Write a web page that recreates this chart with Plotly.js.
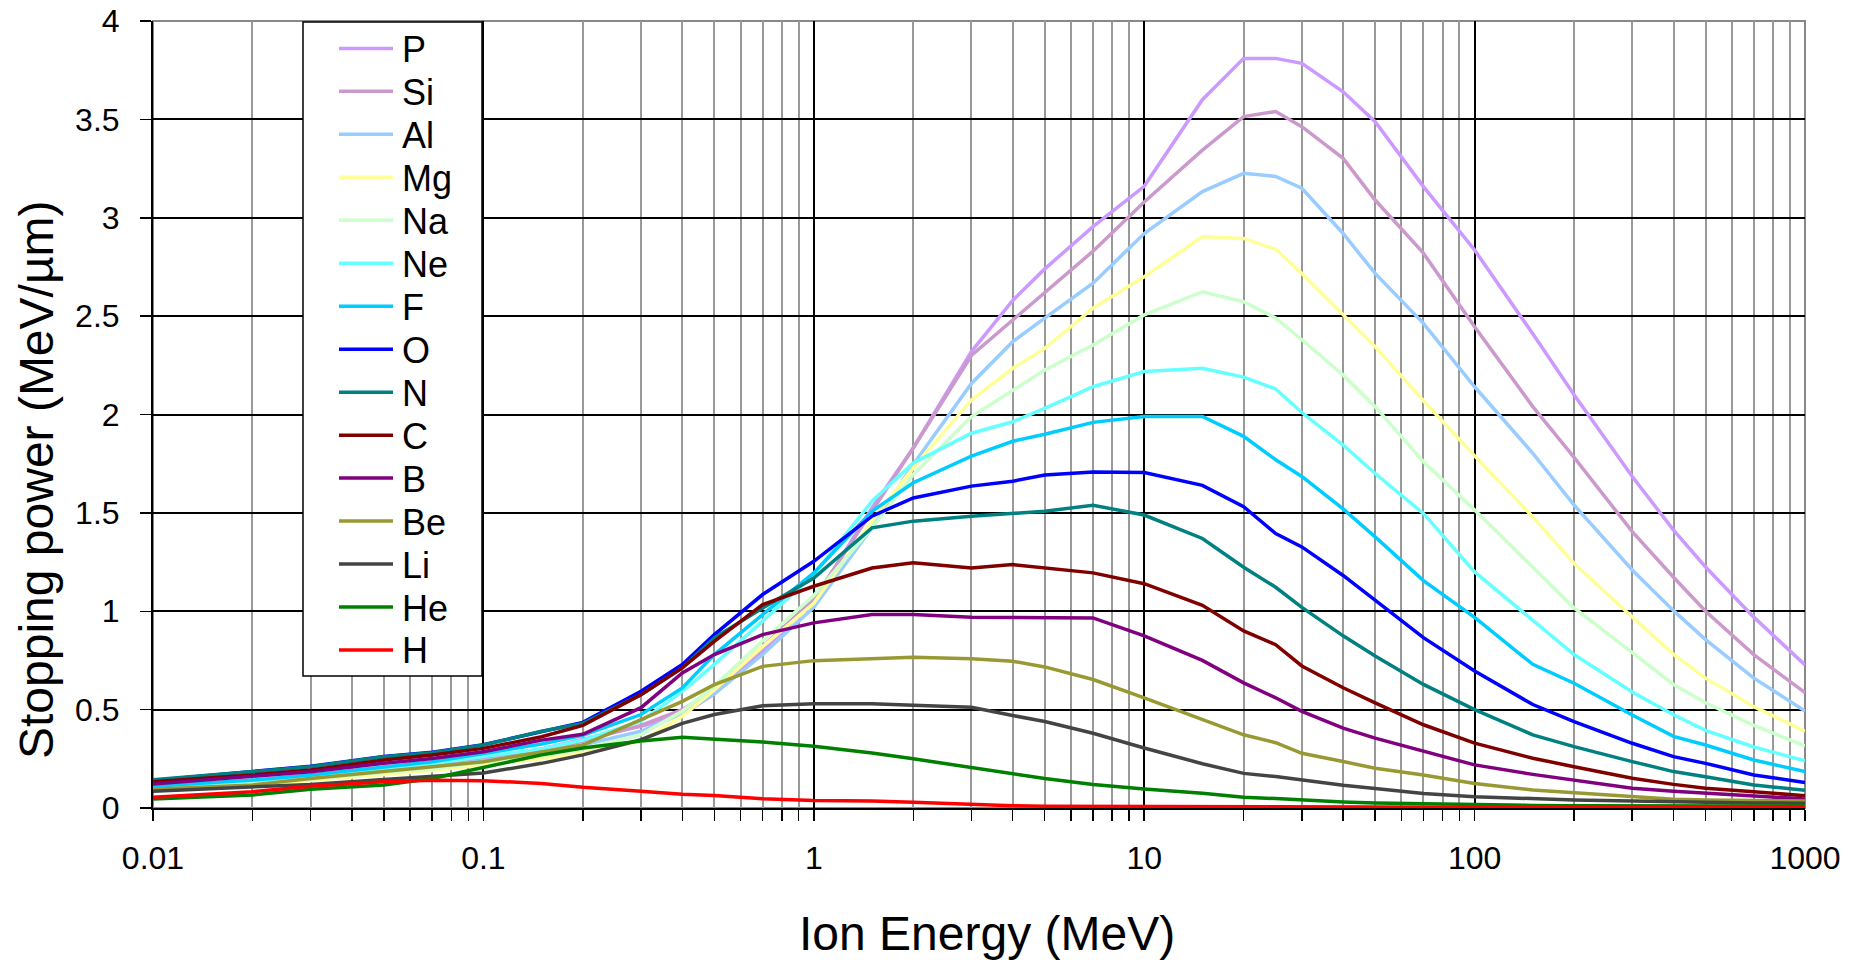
<!DOCTYPE html>
<html>
<head>
<meta charset="utf-8">
<script src="https://cdn.plot.ly/plotly-3.0.1.min.js"></script>
<style>
html,body{margin:0;padding:0;background:#fff;}
#chart{width:1850px;height:960px;}
</style>
</head>
<body>
<div id="chart"></div>
<script>
// Ion energy grid (MeV)
const energy = [0.01,0.02,0.03,0.05,0.07,0.1,0.15,0.2,0.3,0.4,0.5,0.7,1,1.5,2,3,4,5,7,10,15,20,25,30,40,50,70,100,150,200,300,400,500,700,1000];

// Stopping power (MeV/µm) per ion
const P  = [0.1,0.135,0.155,0.19,0.215,0.25,0.3,0.35,0.415,0.475,0.58,0.8,1.05,1.525,1.83,2.32,2.58,2.74,2.955,3.16,3.6,3.81,3.81,3.785,3.64,3.488,3.158,2.836,2.41,2.1,1.685,1.412,1.225,0.97,0.727];
const Si = [0.1,0.133,0.152,0.186,0.21,0.245,0.29,0.34,0.42,0.5,0.6,0.82,1.06,1.508,1.83,2.3,2.48,2.62,2.83,3.08,3.344,3.514,3.54,3.463,3.302,3.09,2.82,2.446,2.04,1.782,1.405,1.173,1.0,0.78,0.586];
const Al = [0.1,0.13,0.15,0.183,0.205,0.24,0.28,0.32,0.39,0.48,0.58,0.78,1.02,1.424,1.746,2.158,2.37,2.49,2.667,2.92,3.133,3.226,3.21,3.15,2.92,2.717,2.463,2.141,1.803,1.54,1.21,1.003,0.856,0.66,0.493];
const Mg = [0.095,0.12,0.14,0.17,0.19,0.22,0.25,0.28,0.34,0.466,0.6,0.82,1.04,1.458,1.729,2.074,2.235,2.336,2.54,2.7,2.904,2.895,2.84,2.717,2.506,2.345,2.07,1.79,1.48,1.243,0.971,0.781,0.66,0.515,0.391];
const Na = [0.1,0.128,0.148,0.18,0.2,0.232,0.265,0.3,0.373,0.492,0.62,0.85,1.08,1.424,1.695,1.989,2.124,2.226,2.353,2.506,2.624,2.573,2.49,2.38,2.2,2.04,1.76,1.515,1.224,1.017,0.79,0.628,0.535,0.42,0.316];
const Ne = [0.105,0.138,0.16,0.2,0.225,0.262,0.3,0.345,0.441,0.593,0.73,0.95,1.186,1.559,1.754,1.905,1.963,2.031,2.141,2.218,2.235,2.19,2.13,2.01,1.845,1.7,1.497,1.2,0.952,0.78,0.59,0.474,0.395,0.31,0.24];
const F  = [0.11,0.142,0.168,0.21,0.235,0.277,0.325,0.37,0.475,0.61,0.78,0.983,1.195,1.508,1.653,1.788,1.864,1.9,1.96,1.99,1.99,1.889,1.77,1.685,1.52,1.378,1.156,0.969,0.73,0.634,0.473,0.364,0.32,0.244,0.185];
const O  = [0.14,0.186,0.212,0.262,0.283,0.322,0.39,0.435,0.593,0.729,0.881,1.085,1.254,1.483,1.576,1.636,1.661,1.692,1.708,1.705,1.64,1.531,1.395,1.327,1.182,1.054,0.866,0.696,0.526,0.439,0.329,0.261,0.227,0.168,0.13];
const N  = [0.143,0.184,0.21,0.26,0.281,0.32,0.39,0.43,0.576,0.712,0.864,1.017,1.169,1.424,1.458,1.483,1.495,1.508,1.539,1.489,1.37,1.224,1.122,1.02,0.875,0.773,0.628,0.5,0.372,0.312,0.236,0.185,0.159,0.117,0.09];
const C  = [0.134,0.168,0.193,0.244,0.269,0.303,0.362,0.42,0.576,0.712,0.847,1.034,1.127,1.22,1.246,1.22,1.237,1.22,1.195,1.14,1.03,0.9,0.83,0.722,0.611,0.534,0.423,0.33,0.253,0.21,0.151,0.12,0.1,0.083,0.062];
const B  = [0.122,0.159,0.184,0.227,0.252,0.286,0.345,0.375,0.51,0.686,0.78,0.881,0.941,0.983,0.983,0.969,0.969,0.969,0.966,0.875,0.75,0.636,0.56,0.491,0.406,0.355,0.287,0.219,0.171,0.142,0.1,0.085,0.075,0.058,0.046];
const Be = [0.095,0.117,0.15,0.184,0.21,0.235,0.286,0.32,0.449,0.542,0.627,0.72,0.749,0.759,0.766,0.758,0.746,0.717,0.653,0.56,0.45,0.372,0.332,0.278,0.236,0.202,0.168,0.125,0.091,0.078,0.058,0.045,0.041,0.038,0.036];
const Li = [0.085,0.105,0.12,0.145,0.16,0.178,0.227,0.27,0.347,0.43,0.475,0.52,0.53,0.53,0.522,0.512,0.47,0.44,0.38,0.305,0.225,0.176,0.16,0.142,0.116,0.099,0.074,0.057,0.047,0.041,0.036,0.031,0.029,0.026,0.024];
const He = [0.046,0.066,0.095,0.117,0.15,0.205,0.27,0.305,0.34,0.36,0.352,0.336,0.314,0.28,0.25,0.205,0.175,0.15,0.12,0.096,0.075,0.055,0.048,0.04,0.03,0.025,0.02,0.015,0.013,0.012,0.011,0.01,0.01,0.01,0.01];
const H  = [0.055,0.083,0.11,0.133,0.141,0.139,0.125,0.105,0.085,0.07,0.063,0.047,0.038,0.036,0.029,0.018,0.012,0.009,0.008,0.008,0.007,0.007,0.006,0.005,0.005,0.004,0.004,0.004,0.004,0.004,0.004,0.004,0.004,0.004,0.004];

const ionNames  = ['P','Si','Al','Mg','Na','Ne','F','O','N','C','B','Be','Li','He','H'];
const ionValues = [P, Si, Al, Mg, Na, Ne, F, O, N, C, B, Be, Li, He, H];
const ionColors = ['#CC99FF','#CC99CC','#99CCFF','#FFFF99','#CCFFCC','#66FFFF','#00CCFF','#0000FF','#008080','#800000','#800080','#999933','#444444','#008000','#FF0000'];

const xTickVals = [0.01,0.1,1,10,100,1000];
const xTickText = ['0.01','0.1','1','10','100','1000'];

const minorVals = [];
for (let d = -2; d < 3; d++) {
  for (let m = 2; m <= 9; m++) minorVals.push(m * Math.pow(10, d));
}

const traces = ionNames.map((name, i) => ({
  type: 'scatter',
  mode: 'lines',
  name: name,
  x: energy,
  y: ionValues[i],
  line: {color: ionColors[i], width: 3.5},
  showlegend: false
}));

const fontFam = 'Liberation Sans, Arial, sans-serif';

// plot-area geometry (pixels) used to place the hand-built legend box and titles
const PL = 153, PR = 1805, PT = 21, PB = 808;
const px2x = px => (px - PL) / (PR - PL);
const py2y = py => (PB - py) / (PB - PT);

const shapes = [
  {type: 'rect', xref: 'paper', yref: 'paper', x0: 0, x1: 1, y0: 0, y1: 1,
   line: {color: '#888888', width: 2}, layer: 'below'},
  {type: 'rect', xref: 'paper', yref: 'paper', x0: px2x(303), x1: px2x(482), y0: py2y(676), y1: py2y(22),
   line: {color: '#000', width: 1.5}, fillcolor: '#ffffff', layer: 'above'}
];
const annotations = [
  {text: 'Stopping power (MeV/µm)', textangle: -90, xref: 'paper', yref: 'paper',
   x: px2x(36), y: py2y(480), xanchor: 'center', yanchor: 'middle', showarrow: false,
   font: {family: fontFam, size: 48, color: '#000'}},
  {text: 'Ion Energy (MeV)', xref: 'paper', yref: 'paper',
   x: px2x(987), y: py2y(933), xanchor: 'center', yanchor: 'middle', showarrow: false,
   font: {family: fontFam, size: 48, color: '#000'}}
];
const legendTop = 48.4, legendStep = 42.97;
ionNames.forEach((name, i) => {
  const cy = legendTop + legendStep * i;
  shapes.push({type: 'line', xref: 'paper', yref: 'paper', x0: px2x(339), x1: px2x(393), y0: py2y(cy), y1: py2y(cy),
    line: {color: ionColors[i], width: 3.5}, layer: 'above'});
  annotations.push({text: name, xref: 'paper', yref: 'paper', x: px2x(400), y: py2y(cy + 1),
    xanchor: 'left', yanchor: 'middle', showarrow: false,
    font: {family: fontFam, size: 36, color: '#000'}});
});

const layout = {
  width: 1850,
  height: 960,
  margin: {l: PL, r: 1850 - PR, t: PT, b: 960 - PB},
  paper_bgcolor: '#ffffff',
  plot_bgcolor: '#ffffff',
  font: {family: fontFam, color: '#000'},
  showlegend: false,
  xaxis: {
    type: 'log',
    range: [-2, 3],
    tickmode: 'array',
    tickvals: xTickVals,
    ticktext: xTickText,
    ticks: 'outside', ticklen: 11, tickwidth: 1.5, tickcolor: '#000',
    tickfont: {family: fontFam, size: 32, color: '#000'},
    ticklabelstandoff: 10,
    showgrid: true, gridcolor: '#000', gridwidth: 2,
    minor: {tickmode: 'array', tickvals: minorVals, ticks: 'outside', ticklen: 11, tickwidth: 1.5, tickcolor: '#000', showgrid: true, gridcolor: '#999999', gridwidth: 2},
    showline: true, linecolor: '#000', linewidth: 2,
    zeroline: false,
    automargin: false
  },
  yaxis: {
    range: [0, 4],
    tickmode: 'linear', tick0: 0, dtick: 0.5,
    ticks: 'outside', ticklen: 11, tickwidth: 1.5, tickcolor: '#000',
    tickfont: {family: fontFam, size: 32, color: '#000'},
    ticklabelstandoff: 14,
    showgrid: true, gridcolor: '#000', gridwidth: 2,
    showline: true, linecolor: '#000', linewidth: 2,
    zeroline: false,
    automargin: false
  },
  shapes: shapes,
  annotations: annotations
};

Plotly.newPlot('chart', traces, layout, {displayModeBar: false, staticPlot: true});
</script>
</body>
</html>
